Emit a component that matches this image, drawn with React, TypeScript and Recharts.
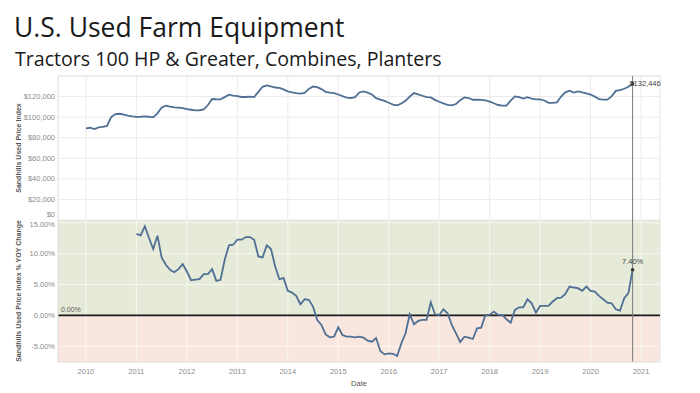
import React from "react";
import {
  CartesianGrid,
  Line,
  LineChart,
  ReferenceArea,
  ReferenceDot,
  ReferenceLine,
  XAxis,
  YAxis,
} from "recharts";

// monthly, Jan 2010 .. Nov 2020
const priceIndex = [
  89100, 89700, 88400, 90000, 90500, 91500, 100000, 103000, 103300, 102500, 101500, 100700,
  100200, 100400, 100700, 100400, 99800, 103700, 109500, 111200, 110300, 109500, 109300, 108800,
  107800, 107200, 106600, 106700, 107500, 111800, 117600, 117400, 117300, 119500, 121800, 121000,
  120400, 119600, 119600, 119900, 119500, 124500, 129500, 130900, 129800, 128800, 128400, 127000,
  125000, 124000, 123300, 122800, 123600, 127500, 129800, 129200, 127300, 124600, 123800, 123300,
  122000, 120400, 119000, 118600, 119500, 124000, 125000, 123800, 122000, 118500, 117000, 115800,
  114000, 112200, 111400, 113200, 116000, 120000, 123400, 122200, 120800, 119500, 119200, 116800,
  115000, 113400, 112000, 111400, 112800, 116500, 119200, 118600, 116900, 116900, 116800, 116200,
  115000, 113500, 111800, 111200, 111200, 116000, 120200, 119500, 118000, 119400, 118000, 117300,
  117200, 116200, 113900, 113800, 114400, 120000, 124100, 125700, 123800, 125000, 124000, 123100,
  122000, 120000, 117600, 117000, 117000, 120200, 125500, 126300, 127600, 129500, 132446,
];

// monthly % YOY, Jan 2011 .. Nov 2020
const yoyChange = [
  13.18, 12.95, 14.42, 12.52, 10.74, 12.9, 9.39, 8.2, 7.38, 7.0, 7.49, 8.3,
  7.11, 5.71, 5.8, 5.87, 6.68, 6.68, 7.49, 5.6, 5.76, 9.01, 11.34, 11.44,
  12.25, 12.25, 12.68, 12.68, 12.25, 9.55, 9.39, 11.34, 10.74, 7.93, 5.87, 6.03,
  3.98, 3.7, 3.16, 1.81, 2.62, 2.52, 1.43, -0.73, -1.54, -3.06, -3.54, -3.43,
  -1.92, -3.16, -3.43, -3.43, -3.54, -3.43, -3.6, -4.08, -4.24, -3.65, -5.76, -6.3,
  -6.14, -6.2, -6.57, -4.52, -2.89, 0.19, -1.43, -0.89, -0.73, -0.73, 2.14, 0.19,
  0.08, 1.0, 0.35, -1.54, -2.89, -4.3, -3.43, -3.6, -3.81, -2.08, -1.97, 0.08,
  0.08, 0.62, 0.08, 0.08, -0.62, -1.16, 0.89, 1.32, 1.32, 2.62, 1.97, 0.46,
  1.54, 1.54, 1.54, 2.25, 2.79, 2.89, 3.49, 4.68, 4.52, 4.41, 3.98, 4.68,
  3.98, 3.87, 3.16, 2.62, 2.08, 1.97, 1.0, 0.78, 2.79, 3.6, 7.4,
];

const yearTicks = [2010, 2011, 2012, 2013, 2014, 2015, 2016, 2017, 2018, 2019, 2020, 2021];
const priceTicks = [0, 20000, 40000, 60000, 80000, 100000, 120000];
const yoyTicks = [-5, 0, 5, 10, 15];

const X_DOMAIN: [number, number] = [2009.446, 2021.376];
const PRICE_MAX = 140000;
const YOY_DOMAIN: [number, number] = [-7.53, 15.44];

const LINE = "#4f6f94";
const TICK_FONT = "'Liberation Sans', Arial, sans-serif";

const priceData = priceIndex.map((v, i) => ({ t: 2010 + i / 12, v }));
const yoyData = yoyChange.map((v, i) => ({ t: 2011 + i / 12, v }));
const lastT = priceData[priceData.length - 1].t;
const lastPrice = priceIndex[priceIndex.length - 1];
const lastYoy = yoyChange[yoyChange.length - 1];

const money = (v: number) => "$" + v.toLocaleString("en-US");
const pct = (v: number) => v.toFixed(2) + "%";

function AxisTitle(props: any) {
  const { viewBox, value } = props;
  const x = viewBox.x + 18;
  const y = viewBox.y + viewBox.height / 2;
  return (
    <text
      x={x}
      y={y}
      transform={`rotate(-90 ${x} ${y})`}
      textAnchor="middle"
      dominantBaseline="central"
      fontFamily={TICK_FONT}
      fontSize={7}
      fontWeight={600}
      fill="#555"
    >
      {value}
    </text>
  );
}

// edge ticks are pulled inside the pane, like the source
function PriceTick(props: any) {
  const { x, y, payload } = props;
  const dy = payload.value === 0 ? -6 : 0;
  return (
    <text x={x} y={y + dy} dy="0.35em" textAnchor="end" fill="#8c8c8c" fontSize={7.5} fontFamily={TICK_FONT}>
      {money(payload.value)}
    </text>
  );
}

function YoyTick(props: any) {
  const { x, y, payload } = props;
  const dy = payload.value === 15 ? 2 : 0;
  return (
    <text x={x} y={y + dy} dy="0.35em" textAnchor="end" fill="#8c8c8c" fontSize={7.5} fontFamily={TICK_FONT}>
      {pct(payload.value)}
    </text>
  );
}

export default function App() {
  return (
    <div style={{ position: "absolute", left: 0, top: 0, width: 700, height: 393, background: "#fff", overflow: "hidden" }}>
      <div
        style={{
          position: "absolute",
          left: 14,
          top: 13.5,
          fontFamily: "'Open Sans', sans-serif",
          fontSize: 26.5,
          lineHeight: 1,
          color: "#1a1a1a",
          whiteSpace: "nowrap",
        }}
      >
        U.S. Used Farm Equipment
      </div>
      <div
        style={{
          position: "absolute",
          left: 15,
          top: 48.5,
          fontFamily: "'Open Sans', sans-serif",
          fontSize: 19.6,
          lineHeight: 1,
          color: "#1a1a1a",
          whiteSpace: "nowrap",
        }}
      >
        Tractors 100 HP &amp; Greater, Combines, Planters
      </div>

      <div style={{ position: "absolute", left: 0, top: 70 }}>
        <LineChart width={700} height={150} data={priceData} margin={{ top: 6, right: 40, bottom: 0, left: 0 }}>
          <CartesianGrid stroke="#ebebeb" vertical={false} />
          <XAxis type="number" dataKey="t" domain={X_DOMAIN} ticks={yearTicks} interval={0} hide allowDataOverflow />
          <YAxis
            type="number"
            width={58}
            domain={[0, PRICE_MAX]}
            ticks={priceTicks}
            interval={0}
            tick={<PriceTick />}
            tickLine={false}
            tickSize={0}
            tickMargin={3}
            axisLine={{ stroke: "#dcdcdc" }}
            label={{ value: "Sandhills Used Price Index", content: AxisTitle }}
          />
          {yearTicks.map((yr) => (
            <ReferenceLine key={yr} x={yr} stroke="#ebebeb" />
          ))}
          <ReferenceLine y={PRICE_MAX} stroke="#e3e3e3" />
          <ReferenceLine x={X_DOMAIN[1]} stroke="#e3e3e3" />
          <ReferenceLine x={lastT} stroke="#7a7a7a" strokeWidth={1} />
          <Line dataKey="v" stroke={LINE} strokeWidth={1.8} dot={false} isAnimationActive={false} />
          <ReferenceDot
            x={lastT}
            y={lastPrice}
            r={1.8}
            fill="#333"
            stroke="none"
            label={{ value: money(lastPrice), position: "right", offset: -5, fill: "#444", fontSize: 7.5, fontFamily: TICK_FONT }}
          />
        </LineChart>
      </div>

      <div style={{ position: "absolute", left: 0, top: 220 }}>
        <LineChart width={700} height={175} data={yoyData} margin={{ top: 0, right: 40, bottom: 0, left: 0 }}>
          <ReferenceArea y1={0} y2={YOY_DOMAIN[1]} fill="#e6ebd9" fillOpacity={1} stroke="none" />
          <ReferenceArea y1={YOY_DOMAIN[0]} y2={0} fill="#f9e6de" fillOpacity={1} stroke="none" />
          <XAxis
            type="number"
            dataKey="t"
            domain={X_DOMAIN}
            ticks={yearTicks}
            interval={0}
            allowDataOverflow
            height={33}
            tickLine={false}
            tickSize={3}
            tickMargin={4}
            axisLine={{ stroke: "#dcdcdc" }}
            tick={{ fill: "#8c8c8c", fontSize: 7.5, fontFamily: TICK_FONT }}
            label={{ value: "Date", position: "insideBottom", offset: 9, fill: "#555", fontSize: 7.5, fontFamily: TICK_FONT }}
          />
          <YAxis
            type="number"
            width={58}
            domain={YOY_DOMAIN}
            ticks={yoyTicks}
            interval={0}
            allowDataOverflow
            tick={<YoyTick />}
            tickLine={false}
            tickSize={0}
            tickMargin={3}
            axisLine={{ stroke: "#dcdcdc" }}
            label={{ value: "Sandhills Used Price Index % YOY Change", content: AxisTitle }}
          />
          {yearTicks.map((yr) => (
            <ReferenceLine key={yr} x={yr} stroke="#f7f7f2" />
          ))}
          {yoyTicks
            .filter((v) => v !== 0)
            .map((v) => (
              <ReferenceLine key={v} y={v} stroke="#f7f7f2" />
            ))}
          <ReferenceLine x={X_DOMAIN[1]} stroke="#e3e3e3" />
          <ReferenceLine
            y={0}
            stroke="#1a1a1a"
            strokeWidth={1.8}
            label={{ value: "0.00%", position: "insideBottomLeft", offset: 3, fill: "#555", fontSize: 7, fontFamily: TICK_FONT }}
          />
          <ReferenceLine x={lastT} stroke="#7a7a7a" strokeWidth={1} />
          <Line dataKey="v" stroke={LINE} strokeWidth={1.8} dot={false} isAnimationActive={false} />
          <ReferenceDot
            x={lastT}
            y={lastYoy}
            r={1.8}
            fill="#333"
            stroke="none"
            label={{ value: pct(lastYoy), position: "top", offset: 4, fill: "#444", fontSize: 7.5, fontFamily: TICK_FONT }}
          />
        </LineChart>
      </div>
    </div>
  );
}
